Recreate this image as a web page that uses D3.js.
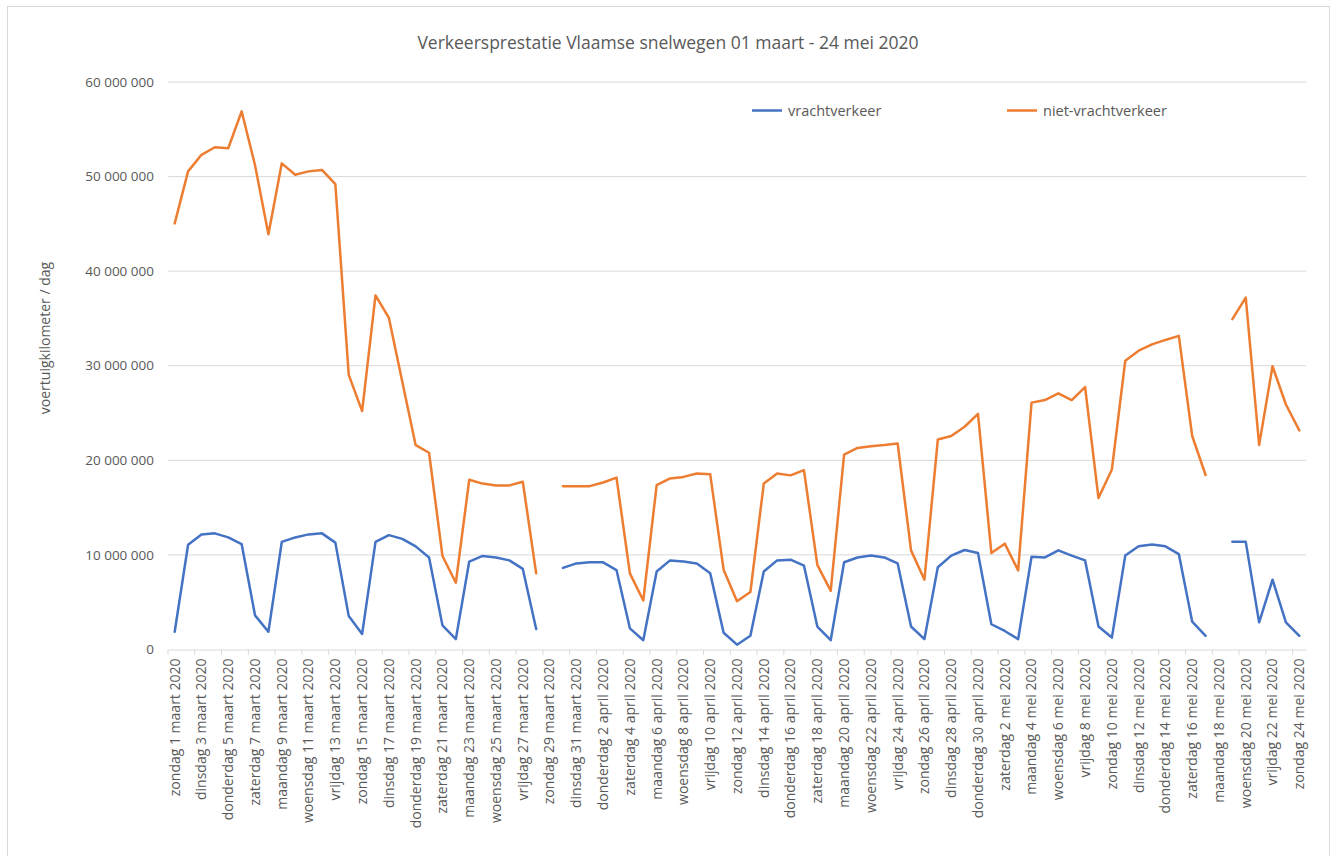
<!DOCTYPE html>
<html>
<head>
<meta charset="utf-8">
<script src="https://cdnjs.cloudflare.com/ajax/libs/d3/7.8.5/d3.min.js"></script>
<style>
  body { margin: 0; background: #fff; }
  svg text { font-family: "Open Sans", "Noto Sans", sans-serif; fill: #595959; }
</style>
</head>
<body>
<script>
var width = 1335;
var height = 856;

// daily values, million vehicle-km (null = no data)
var vrachtverkeer = [
  1.88, 11.07, 12.17, 12.28, 11.85, 11.15, 3.61, 1.88, 11.38, 11.85,
  12.17, 12.28, 11.3, 3.53, 1.65, 11.38, 12.09, 11.7, 10.9, 9.73,
  2.55, 1.10, 9.30, 9.89, 9.73, 9.42, 8.52, 2.16, null, 8.63,
  9.1, 9.22, 9.22, 8.4, 2.24, 0.98, 8.24, 9.42, 9.3, 9.1,
  8.05, 1.77, 0.51, 1.45, 8.24, 9.42, 9.5, 8.87, 2.43, 0.98,
  9.22, 9.73, 9.93, 9.73, 9.1, 2.43, 1.1, 8.7, 9.93, 10.52,
  10.2, 2.67, 1.96, 1.1, 9.81, 9.73, 10.48, 9.93, 9.42, 2.43,
  1.26, 9.93, 10.91, 11.11, 10.91, 10.09, 2.94, 1.45, null, 11.38,
  11.38, 2.87, 7.38, 2.87, 1.45
];

var nietVrachtverkeer = [
  45.05, 50.55, 52.3, 53.1, 53.0, 56.9, 51.2, 43.9, 51.4, 50.2,
  50.55, 50.7, 49.2, 29.04, 25.2, 37.44, 35.05, 28.3, 21.6, 20.8,
  9.89, 7.06, 17.94, 17.54, 17.35, 17.35, 17.74, 8.05, null, 17.27,
  17.27, 17.27, 17.66, 18.17, 8.05, 5.18, 17.39, 18.09, 18.25, 18.6,
  18.52, 8.44, 5.1, 6.08, 17.54, 18.6, 18.41, 18.96, 8.95, 6.2,
  20.6, 21.31, 21.5, 21.62, 21.78, 10.48, 7.38, 22.2, 22.57, 23.55,
  24.92, 10.2, 11.19, 8.36, 26.1, 26.37, 27.08, 26.37, 27.75, 16.01,
  19.03, 30.53, 31.59, 32.26, 32.73, 33.16, 22.57, 18.45, null, 34.93,
  37.2, 21.62, 29.95, 25.9, 23.16
];

var yTicks = [0, 10000000, 20000000, 30000000, 40000000, 50000000, 60000000];
var dagen = ["zondag", "maandag", "dinsdag", "woensdag", "donderdag", "vrijdag", "zaterdag"];
var maanden = ["januari", "februari", "maart", "april", "mei", "juni"];

// categories: 1 maart - 24 mei 2020
var dates = d3.timeDay.range(new Date(2020, 2, 1), new Date(2020, 4, 25));
var categories = dates.map(function(d) {
  return dagen[d.getDay()] + " " + d.getDate() + " " + maanden[d.getMonth()] + " " + d.getFullYear();
});

var series = [
  { name: "vrachtverkeer", values: vrachtverkeer, color: "#4472C4" },
  { name: "niet-vrachtverkeer", values: nietVrachtverkeer, color: "#ED7D31" }
];

var nl = d3.formatLocale({ decimal: ",", thousands: " ", grouping: [3], currency: ["", " €"] });
var fmt = nl.format(",");

var svg = d3.select("body")
            .append("svg")
            .attr("width", width)
            .attr("height", height);

// chart border
svg.append("rect")
   .attr("x", 7.5)
   .attr("y", 6.5)
   .attr("width", 1322)
   .attr("height", 860)
   .style("fill", "none")
   .style("stroke", "#d9d9d9");

var x = d3.scaleBand().domain(d3.range(categories.length)).range([168, 1306]).padding(0);
var y = d3.scaleLinear().domain([0, 60000000]).range([649.5, 82]);

// gridlines
svg.append("g")
   .selectAll("line")
   .data(yTicks.slice(1))
   .enter()
   .append("line")
   .attr("x1", 168)
   .attr("x2", 1306)
   .attr("y1", function(d) { return y(d); })
   .attr("y2", function(d) { return y(d); })
   .style("stroke", "#d9d9d9")
   .style("stroke-width", 1);

// y axis labels
svg.append("g")
   .selectAll("text")
   .data(yTicks)
   .enter()
   .append("text")
   .attr("x", 154)
   .attr("y", function(d) { return y(d); })
   .attr("dy", "0.35em")
   .attr("text-anchor", "end")
   .style("font-size", "13.5px")
   .text(function(d) { return fmt(d); });

// x axis
var xAxis = d3.axisBottom(x)
              .tickValues(d3.range(0, categories.length, 2))
              .tickSize(0)
              .tickFormat(function(i) { return categories[i]; });

var gx = svg.append("g")
            .attr("transform", "translate(0,649.5)")
            .call(xAxis);
gx.select(".domain").style("stroke", "#d9d9d9");
gx.selectAll("text")
  .attr("transform", "rotate(-90)")
  .attr("x", -9)
  .attr("y", 0)
  .attr("dy", "0.35em")
  .attr("text-anchor", "end")
  .style("font-size", "14px")
  .style("fill", "#595959")
  .style("font-family", "\"Open Sans\", sans-serif");

// tick marks on category boundaries, every second day
svg.append("g")
   .selectAll("line")
   .data(d3.range(0, categories.length + 1, 2))
   .enter()
   .append("line")
   .attr("x1", function(i) { return i < categories.length ? x(i) : x.range()[1]; })
   .attr("x2", function(i) { return i < categories.length ? x(i) : x.range()[1]; })
   .attr("y1", 649.5)
   .attr("y2", 655)
   .style("stroke", "#d9d9d9");

// lines
var line = d3.line()
             .defined(function(d) { return d != null; })
             .x(function(d, i) { return x(i) + x.bandwidth() / 2; })
             .y(function(d) { return y(d * 1000000); });

series.forEach(function(s) {
  svg.append("path")
     .datum(s.values)
     .attr("d", line)
     .style("fill", "none")
     .style("stroke", s.color)
     .style("stroke-width", 2.5)
     .style("stroke-linejoin", "round")
     .style("stroke-linecap", "round");
});

// title
svg.append("text")
   .attr("x", 668)
   .attr("y", 43)
   .attr("dy", "0.35em")
   .attr("text-anchor", "middle")
   .style("font-size", "17.5px")
   .text("Verkeersprestatie Vlaamse snelwegen 01 maart - 24 mei 2020");

// y axis title
svg.append("text")
   .attr("transform", "translate(45,338) rotate(-90)")
   .attr("dy", "0.35em")
   .attr("text-anchor", "middle")
   .style("font-size", "14px")
   .text("voertuigkilometer  / dag");

// legend
var legendX = [752, 1007];
var legend = svg.append("g")
                .selectAll("g")
                .data(series)
                .enter()
                .append("g")
                .attr("transform", function(d, i) { return "translate(" + legendX[i] + ",110.5)"; });

legend.append("line")
      .attr("x1", 0)
      .attr("x2", 30)
      .style("stroke", function(d) { return d.color; })
      .style("stroke-width", 2.5);

legend.append("text")
      .attr("x", 36)
      .attr("dy", "0.35em")
      .style("font-size", "14.5px")
      .text(function(d) { return d.name; });
</script>
</body>
</html>
